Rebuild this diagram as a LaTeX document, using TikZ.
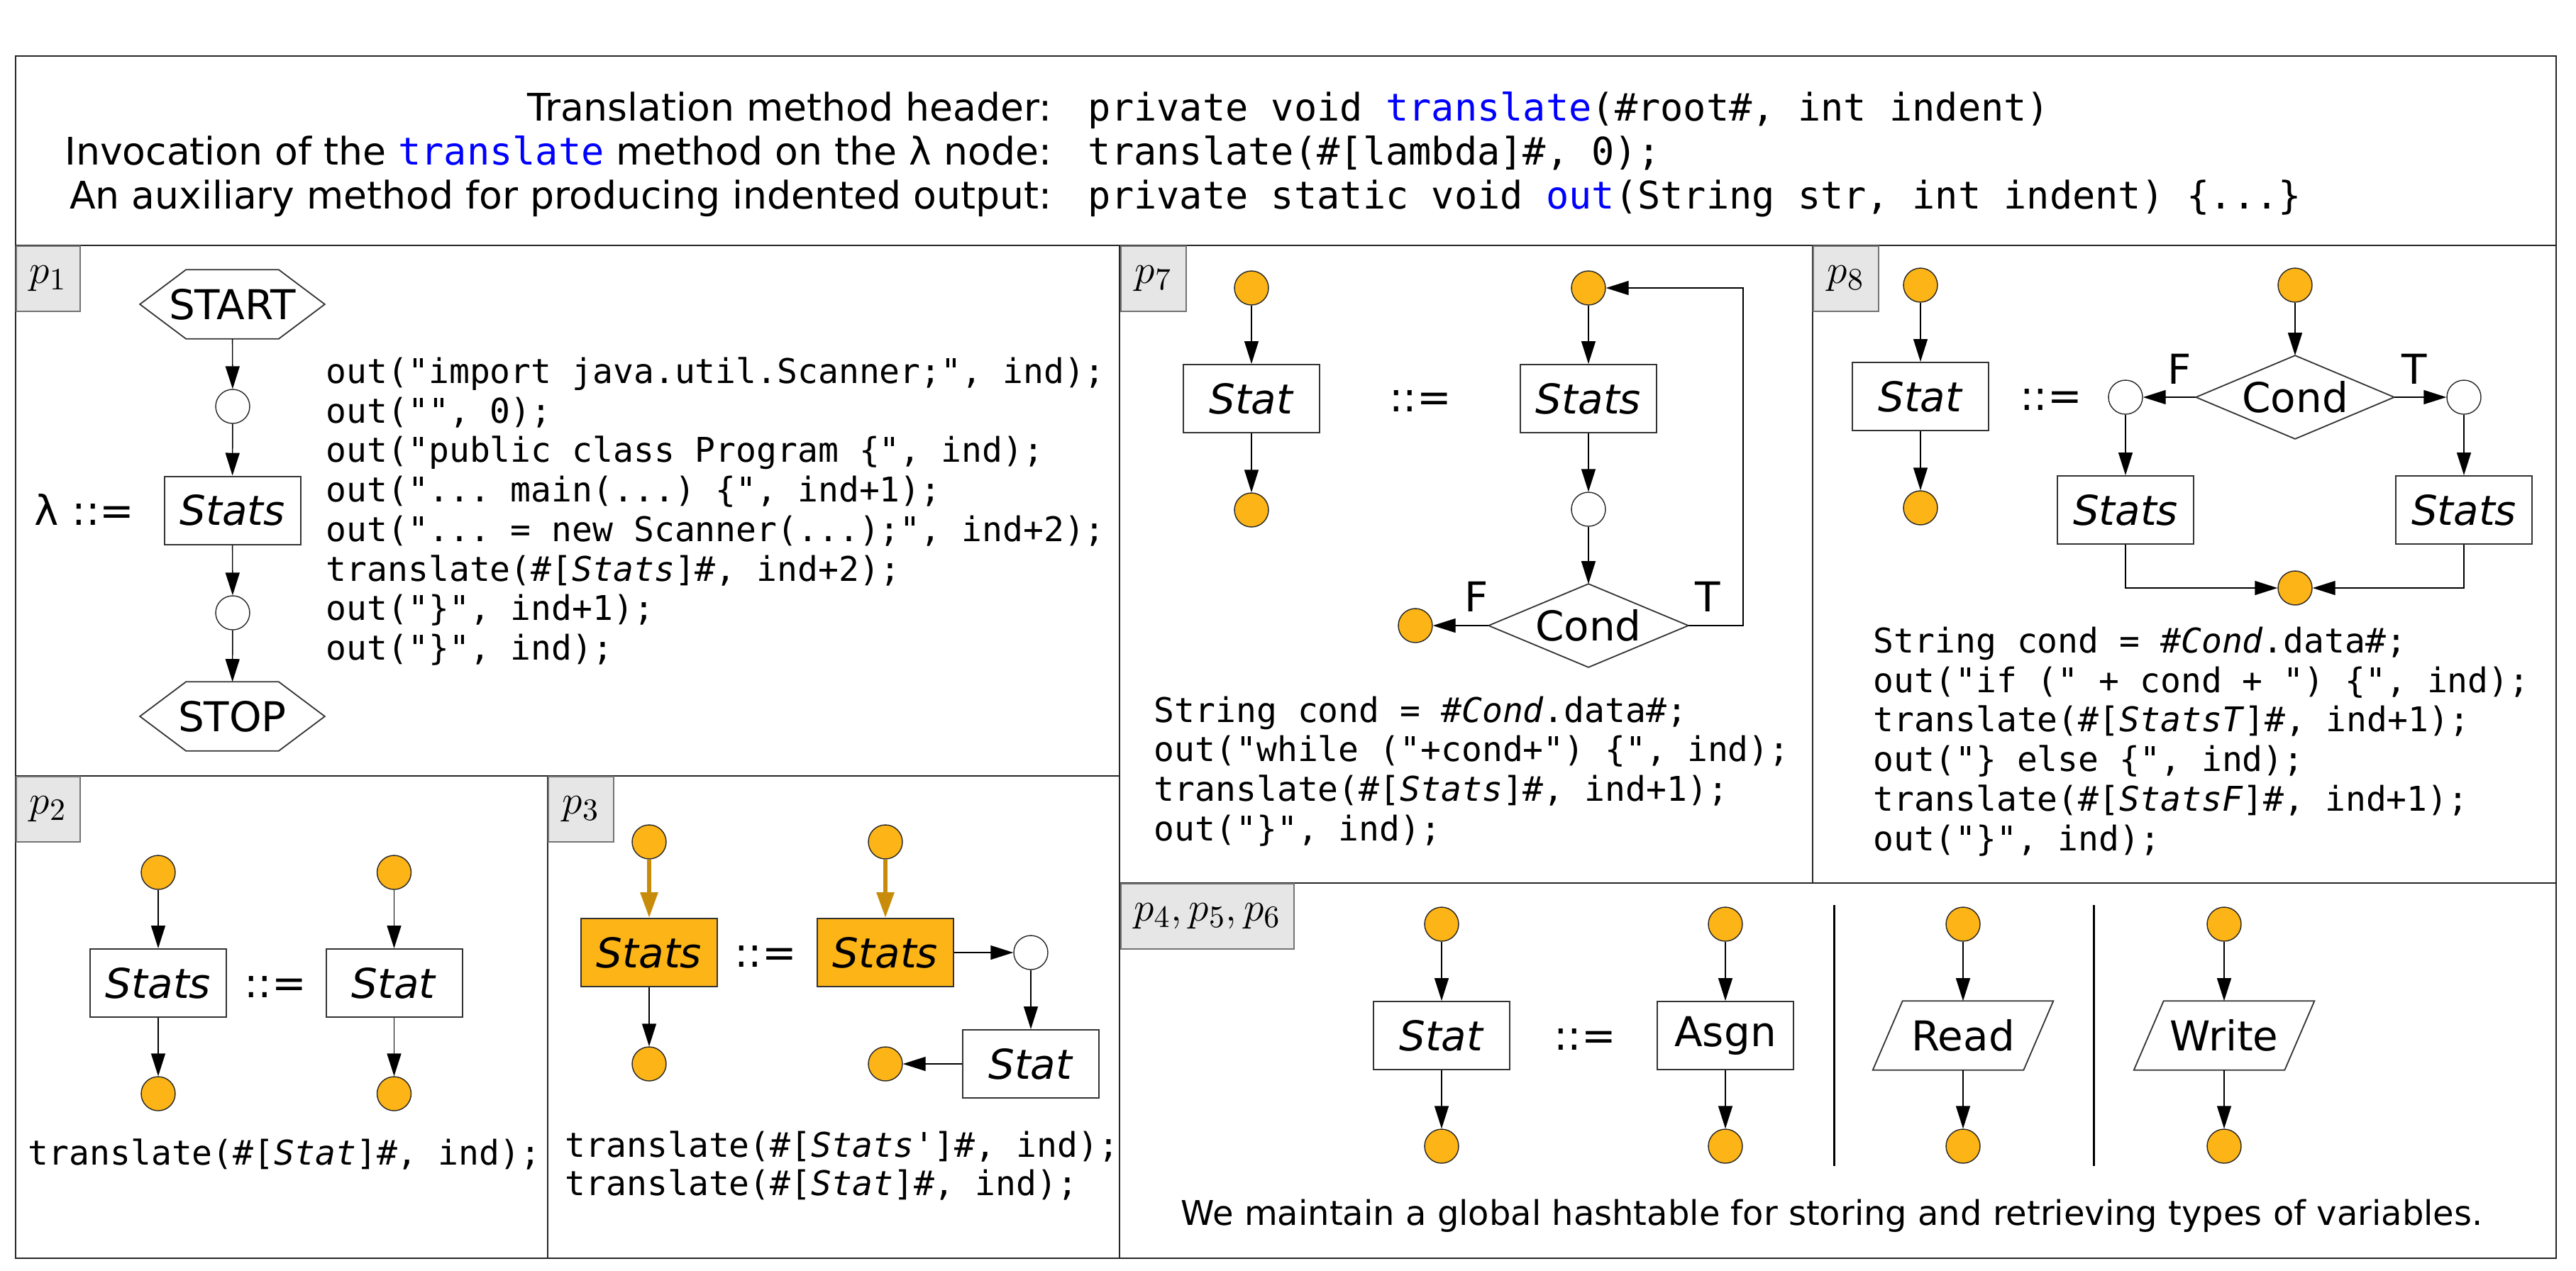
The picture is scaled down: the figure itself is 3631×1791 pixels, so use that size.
\documentclass[tikz,border=0pt]{standalone}
\usepackage[no-math]{fontspec}
\setmainfont{DejaVu Sans}
\setmonofont{DejaVu Sans Mono}
\usetikzlibrary{arrows.meta,calc}

\definecolor{gold}{RGB}{252,180,22}
\definecolor{goldline}{RGB}{200,140,10}
\definecolor{taggray}{RGB}{230,230,230}

\newcommand\nodefnt{\fontsize{14.5pt}{17pt}\selectfont}
\newcommand\codefnt{\ttfamily\fontsize{12pt}{14pt}\selectfont}
\newcommand\hdrfnt{\fontsize{13.4pt}{16pt}\selectfont}
\newcommand\tagfnt{\fontsize{15pt}{18pt}\selectfont}

\tikzset{
  frame/.style={draw=black!85, line width=0.5pt},
  lnk/.style={draw=black, line width=0.35pt, -{Triangle[length=8pt,width=5pt]}},
  golnk/.style={draw=goldline, line width=1.5pt, -{Triangle[length=9pt,width=6pt]}},
  blk/.style={draw=black!80, line width=0.5pt, minimum width=48pt, minimum height=24pt, inner sep=0pt, font=\nodefnt},
  goldblk/.style={blk, fill=gold},
  shapebase/.style={inner sep=0pt, minimum height=24pt, font=\nodefnt},
  outline/.style={draw=black!80, line width=0.45pt},
  dot/.style={circle, draw=black!85, line width=0.35pt, minimum size=12pt, inner sep=0pt},
  gdot/.style={dot, fill=gold},
  wdot/.style={dot, fill=white},
  eqs/.style={inner sep=0pt, anchor=base, font=\nodefnt},
  flag/.style={inner sep=0pt, font=\nodefnt},
  codeln/.style={inner sep=0pt, anchor=base west, font=\codefnt},
  hdr/.style={inner sep=0pt, font=\hdrfnt},
  tagbox/.style={draw=black!55, line width=0.4pt, fill=taggray, anchor=north west, inner sep=0pt, minimum height=23pt, font=\tagfnt}
}

\begin{document}
\begin{tikzpicture}[x=0.25pt,y=-0.25pt]
\useasboundingbox (0,0) rectangle (3631,1791);

% ---------- frames ----------
\draw[frame] (22,79) rectangle (3603,1774);
\draw[frame] (22,346) -- (3603,346);
\draw[frame] (1578,346) -- (1578,1774);
\draw[frame] (22,1094) -- (1578,1094);
\draw[frame] (772,1094) -- (772,1774);
\draw[frame] (2555,346) -- (2555,1245);
\draw[frame] (1578,1245) -- (3603,1245);

% ---------- header ----------
\node[hdr, anchor=base east] (h1l) at (1483,170) {Translation method header:};
\node[hdr, anchor=base west] (h1r) at (1533,170) {\ttfamily private void {\color{blue}translate}(\#root\#, int indent)};
\node[hdr, anchor=base east] (h2l) at (1483,232) {Invocation of the {\ttfamily\color{blue}translate} method on the λ node:};
\node[hdr, anchor=base west] (h2r) at (1533,232) {\ttfamily translate(\#[lambda]\#, 0);};
\node[hdr, anchor=base east] (h3l) at (1483,294) {An auxiliary method for producing indented output:};
\node[hdr, anchor=base west] (h3r) at (1533,294) {\ttfamily private static void {\color{blue}out}(String str, int indent) \{...\}};

% ---------- tags ----------
\node[tagbox, minimum width=22.5pt] (t1) at (22,346) {$p_1$};
\node[tagbox, minimum width=22.5pt] (t2) at (22,1094) {$p_2$};
\node[tagbox, minimum width=23pt] (t3) at (772,1094) {$p_3$};
\node[tagbox, minimum width=23pt] (t7) at (1579,346) {$p_7$};
\node[tagbox, minimum width=23pt] (t8) at (2555,346) {$p_8$};
\node[tagbox, minimum width=61pt] (t456) at (1579,1245) {$p_4, p_5, p_6$};

% ---------- p1 ----------
\node[shapebase, minimum width=64.75pt] (start) at (327.5,429) {START};
\draw[outline] (start.west) -- ($(start.north west)+(65,0)$) -- ($(start.north east)+(-65,0)$) -- (start.east) -- ($(start.south east)+(-65,0)$) -- ($(start.south west)+(65,0)$) -- cycle;
\node[wdot] (c1a) at (328,573) {};
\node[blk] (st1) at (327.5,719.5) {\textit{Stats}};
\node[wdot] (c1b) at (328,864) {};
\node[shapebase, minimum width=64.75pt] (stop) at (327.5,1010) {STOP};
\draw[outline] (stop.west) -- ($(stop.north west)+(65,0)$) -- ($(stop.north east)+(-65,0)$) -- (stop.east) -- ($(stop.south east)+(-65,0)$) -- ($(stop.south west)+(65,0)$) -- cycle;
\node[eqs] (lam) at (119,740) {λ ::=};
\draw[lnk] (start) -- (c1a);
\draw[lnk] (c1a) -- (st1);
\draw[lnk] (st1) -- (c1b);
\draw[lnk] (c1b) -- (stop);

\node[codeln] (p1c1) at (459,540) {out("import java.util.Scanner;", ind);};
\node[codeln] (p1c2) at (459,596) {out("", 0);};
\node[codeln] (p1c3) at (459,651) {out("public class Program \{", ind);};
\node[codeln] (p1c4) at (459,707) {out("... main(...) \{", ind+1);};
\node[codeln] (p1c5) at (459,763) {out("... = new Scanner(...);", ind+2);};
\node[codeln] (p1c6) at (459,819) {translate(\#[\textit{Stats}]\#, ind+2);};
\node[codeln] (p1c7) at (459,874) {out("\}", ind+1);};
\node[codeln] (p1c8) at (459,930) {out("\}", ind);};

% ---------- p2 ----------
\node[gdot] (o2a) at (223,1230) {};
\node[gdot] (o2b) at (555.5,1230) {};
\node[blk] (s2a) at (223,1386) {\textit{Stats}};
\node[blk] (s2b) at (555.5,1386) {\textit{Stat}};
\node[eqs] (eq2) at (388,1406) {::=};
\node[gdot] (o2c) at (223,1542) {};
\node[gdot] (o2d) at (555.5,1542) {};
\draw[lnk] (o2a) -- (s2a);
\draw[lnk] (s2a) -- (o2c);
\draw[lnk] (o2b) -- (s2b);
\draw[lnk] (s2b) -- (o2d);
\node[codeln] (p2c1) at (39,1642) {translate(\#[\textit{Stat}]\#, ind);};

% ---------- p3 ----------
\node[gdot] (o3a) at (915,1187) {};
\node[gdot] (o3b) at (1248,1187) {};
\node[goldblk] (s3a) at (915,1343) {\textit{Stats}};
\node[goldblk] (s3b) at (1248,1343) {\textit{Stats}};
\node[eqs] (eq3) at (1079,1363) {::=};
\node[wdot] (w3) at (1453,1343) {};
\node[blk] (s3c) at (1453,1500) {\textit{Stat}};
\node[gdot] (o3c) at (915,1500) {};
\node[gdot] (o3d) at (1248,1500) {};
\draw[golnk] (o3a) -- (s3a);
\draw[golnk] (o3b) -- (s3b);
\draw[lnk] (s3a) -- (o3c);
\draw[lnk] (s3b) -- (w3);
\draw[lnk] (w3) -- (s3c);
\draw[lnk] (s3c) -- (o3d);
\node[codeln] (p3c1) at (796,1631) {translate(\#[\textit{Stats}']\#, ind);};
\node[codeln] (p3c2) at (796,1685) {translate(\#[\textit{Stat}]\#, ind);};

% ---------- p7 ----------
\node[gdot] (o7a) at (1764,406) {};
\node[blk] (s7a) at (1764,562) {\textit{Stat}};
\node[gdot] (o7b) at (1764,719) {};
\node[eqs] (eq7) at (2002,580) {::=};
\node[gdot] (o7c) at (2239,406) {};
\node[blk] (s7b) at (2239,562) {\textit{Stats}};
\node[wdot] (w7) at (2239,718) {};
\node[shapebase, minimum width=70pt, minimum height=29pt] (cd7) at (2239,882) {Cond};
\draw[outline] (cd7.north) -- (cd7.east) -- (cd7.south) -- (cd7.west) -- cycle;
\node[gdot] (o7d) at (1995,882) {};
\node[flag] (f7) at (2081,841) {F};
\node[flag] (tt7) at (2407,841) {T};
\coordinate (lp7) at (2457,882);
\draw[lnk] (o7a) -- (s7a);
\draw[lnk] (s7a) -- (o7b);
\draw[lnk] (o7c) -- (s7b);
\draw[lnk] (s7b) -- (w7);
\draw[lnk] (w7) -- (cd7.north);
\draw[lnk] (cd7.west) -- (o7d);
\draw[lnk] (cd7.east) -- (lp7) |- (o7c);
\node[codeln] (p7c1) at (1626,1018) {String cond = \#\textit{Cond}.data\#;};
\node[codeln] (p7c2) at (1626,1073) {out("while ("+cond+") \{", ind);};
\node[codeln] (p7c3) at (1626,1129) {translate(\#[\textit{Stats}]\#, ind+1);};
\node[codeln] (p7c4) at (1626,1185) {out("\}", ind);};

% ---------- p8 ----------
\node[gdot] (o8a) at (2707,402) {};
\node[blk] (s8a) at (2707,559) {\textit{Stat}};
\node[gdot] (o8b) at (2707,716) {};
\node[eqs] (eq8) at (2891,578) {::=};
\node[gdot] (o8c) at (3235,402) {};
\node[shapebase, minimum width=69.5pt, minimum height=29pt] (cd8) at (3235,560) {Cond};
\draw[outline] (cd8.north) -- (cd8.east) -- (cd8.south) -- (cd8.west) -- cycle;
\node[wdot] (w8a) at (2996,560) {};
\node[wdot] (w8b) at (3473,560) {};
\node[flag] (f8) at (3072,520) {F};
\node[flag] (tt8) at (3403,520) {T};
\node[blk] (s8b) at (2996,719) {\textit{Stats}};
\node[blk] (s8c) at (3473,719) {\textit{Stats}};
\node[gdot] (o8d) at (3235,829) {};
\draw[lnk] (o8a) -- (s8a);
\draw[lnk] (s8a) -- (o8b);
\draw[lnk] (o8c) -- (cd8.north);
\draw[lnk] (cd8.west) -- (w8a);
\draw[lnk] (cd8.east) -- (w8b);
\draw[lnk] (w8a) -- (s8b);
\draw[lnk] (w8b) -- (s8c);
\draw[lnk] (s8b) |- (o8d);
\draw[lnk] (s8c) |- (o8d);
\node[codeln] (p8c1) at (2640,920) {String cond = \#\textit{Cond}.data\#;};
\node[codeln] (p8c2) at (2640,976) {out("if (" + cond + ") \{", ind);};
\node[codeln] (p8c3) at (2640,1031) {translate(\#[\textit{StatsT}]\#, ind+1);};
\node[codeln] (p8c4) at (2640,1087) {out("\} else \{", ind);};
\node[codeln] (p8c5) at (2640,1143) {translate(\#[\textit{StatsF}]\#, ind+1);};
\node[codeln] (p8c6) at (2640,1199) {out("\}", ind);};

% ---------- p4, p5, p6 ----------
\node[gdot] (o4a) at (2032,1303) {};
\node[gdot] (o4b) at (2432,1303) {};
\node[gdot] (o5a) at (2767,1303) {};
\node[gdot] (o6a) at (3135,1303) {};
\node[blk] (s4a) at (2032,1460) {\textit{Stat}};
\node[eqs] (eq4) at (2234,1480) {::=};
\node[blk] (s4b) at (2432,1460) {Asgn};
\node[shapebase, minimum width=52.75pt] (rd) at (2767,1460) {Read};
\draw[outline] ($(rd.north west)+(21,0)$) -- ($(rd.north east)+(21,0)$) -- ($(rd.south east)+(-21,0)$) -- ($(rd.south west)+(-21,0)$) -- cycle;
\node[shapebase, minimum width=52.75pt] (wr) at (3135,1460) {Write};
\draw[outline] ($(wr.north west)+(21,0)$) -- ($(wr.north east)+(21,0)$) -- ($(wr.south east)+(-21,0)$) -- ($(wr.south west)+(-21,0)$) -- cycle;
\node[gdot] (o4c) at (2032,1616) {};
\node[gdot] (o4d) at (2432,1616) {};
\node[gdot] (o5b) at (2767,1616) {};
\node[gdot] (o6b) at (3135,1616) {};
\draw[lnk] (o4a) -- (s4a);
\draw[lnk] (s4a) -- (o4c);
\draw[lnk] (o4b) -- (s4b);
\draw[lnk] (s4b) -- (o4d);
\draw[lnk] (o5a) -- (rd.north);
\draw[lnk] (rd.south) -- (o5b);
\draw[lnk] (o6a) -- (wr.north);
\draw[lnk] (wr.south) -- (o6b);
\draw[line width=0.75pt] (2585,1276) -- (2585,1644);
\draw[line width=0.75pt] (2951,1276) -- (2951,1644);
\node[inner sep=0pt, anchor=base, font=\fontsize{12pt}{14pt}\selectfont] (note) at (2582,1727) {We maintain a global hashtable for storing and retrieving types of variables.};

\end{tikzpicture}
\end{document}
